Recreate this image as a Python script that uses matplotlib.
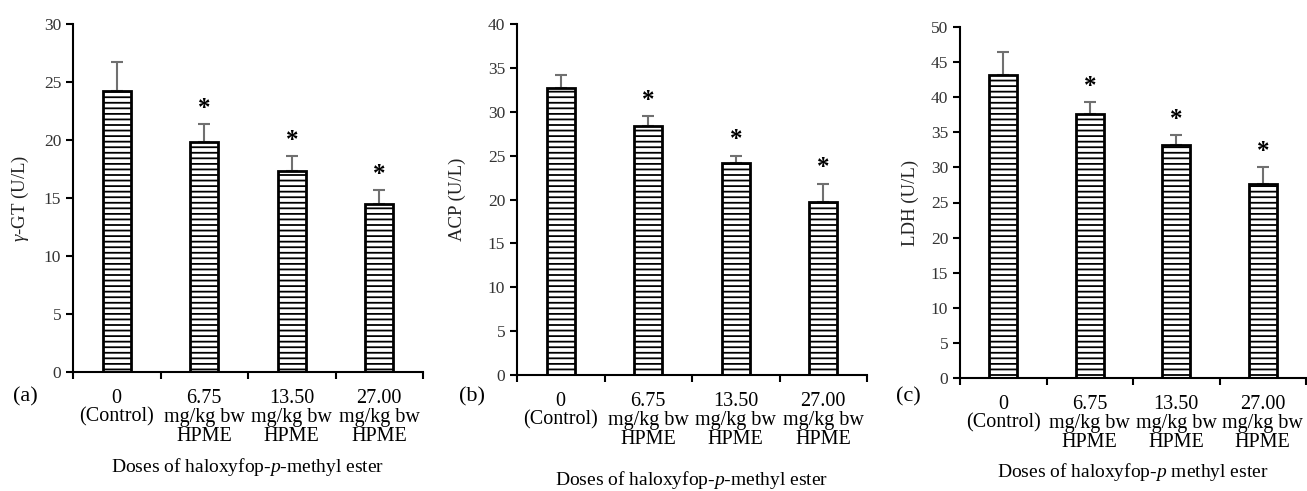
import numpy as np
import matplotlib
matplotlib.use('Agg')
import matplotlib.pyplot as plt

plt.rcParams['font.family'] = 'Liberation Serif'
plt.rcParams['mathtext.fontset'] = 'custom'
plt.rcParams['mathtext.rm'] = 'Liberation Serif'
plt.rcParams['mathtext.it'] = 'Liberation Serif:italic'
plt.rcParams['hatch.linewidth'] = 1.3

# data
categories = ['0\n(Control)', '6.75\nmg/kg bw\nHPME', '13.50\nmg/kg bw\nHPME', '27.00\nmg/kg bw\nHPME']
ggt_mean = [24.25, 19.85, 17.3, 14.5]
ggt_err = [2.45, 1.5, 1.3, 1.2]
acp_mean = [32.7, 28.4, 24.2, 19.7]
acp_err = [1.45, 1.1, 0.8, 2.1]
ldh_mean = [43.2, 37.6, 33.2, 27.7]
ldh_err = [3.3, 1.7, 1.4, 2.3]
signif = [False, True, True, True]

W, H = 1307, 491
fig = plt.figure(figsize=(W / 100, H / 100), dpi=100)

panels = [
    # left, right, top, bottom (pixels), data, ylabel, ymax, tag, xlabel
    (73, 423, 24, 372, ggt_mean, ggt_err, r'$\gamma$-GT (U/L)', 30, '(a)', 25, 20,
     'Doses of haloxyfop-$p$-methyl ester', 467),
    (517, 867, 24, 375, acp_mean, acp_err, 'ACP (U/L)', 40, '(b)', 472, 457,
     'Doses of haloxyfop-$p$-methyl ester', 480),
    (960, 1306, 27, 378, ldh_mean, ldh_err, 'LDH (U/L)', 50, '(c)', 908, 910,
     'Doses of haloxyfop-$p$ methyl ester', 472),
]

x = np.arange(len(categories))
for (l, r, t, b, mean, err, ylab, ymax, tag, tagx, ylx, xlab, xly) in panels:
    ax = fig.add_axes([l / W, 1 - b / H, (r - l) / W, (b - t) / H])
    ax.bar(x, mean, width=0.32, color='white', edgecolor='black',
           linewidth=2, hatch='---', zorder=2)
    ax.errorbar(x, mean, yerr=[np.zeros(len(err)), err], fmt='none',
                ecolor='#707070', elinewidth=1.5, capsize=4.5, capthick=1.5, zorder=1)
    for i in range(len(x)):
        if signif[i]:
            ax.text(x[i], mean[i] + err[i] + ymax * 0.012, '*', ha='center',
                    va='bottom', fontsize=18, fontweight='bold')
    ax.set_xlim(-0.5, 3.5)
    ax.set_ylim(0, ymax)
    ax.set_yticks(np.arange(0, ymax + 1, 5))
    ax.set_xticks(x)
    ax.set_xticklabels(categories, fontsize=14.5, linespacing=1.0)
    ax.set_xticks(np.arange(-0.5, 4, 1), minor=True)
    ax.tick_params(axis='x', which='major', length=0, pad=12)
    ax.tick_params(axis='x', which='minor', length=5, width=1.5, direction='out')
    ax.tick_params(axis='y', length=5, width=1.5, labelsize=12.5, labelcolor='#333333')
    for s in ['top', 'right']:
        ax.spines[s].set_visible(False)
    for s in ['left', 'bottom']:
        ax.spines[s].set_linewidth(1.5)
    fig.text(tagx / W, 1 - 397 / H, tag, ha='center', va='center', fontsize=16)
    fig.text(ylx / W, 1 - (t + b) / 2 / H, ylab, rotation=90, ha='center',
             va='center', fontsize=13.5, color='#222222')
    fig.text((l + r) / 2 / W, 1 - xly / H, xlab, ha='center', va='center', fontsize=14)

fig.savefig('out.png', dpi=100)
